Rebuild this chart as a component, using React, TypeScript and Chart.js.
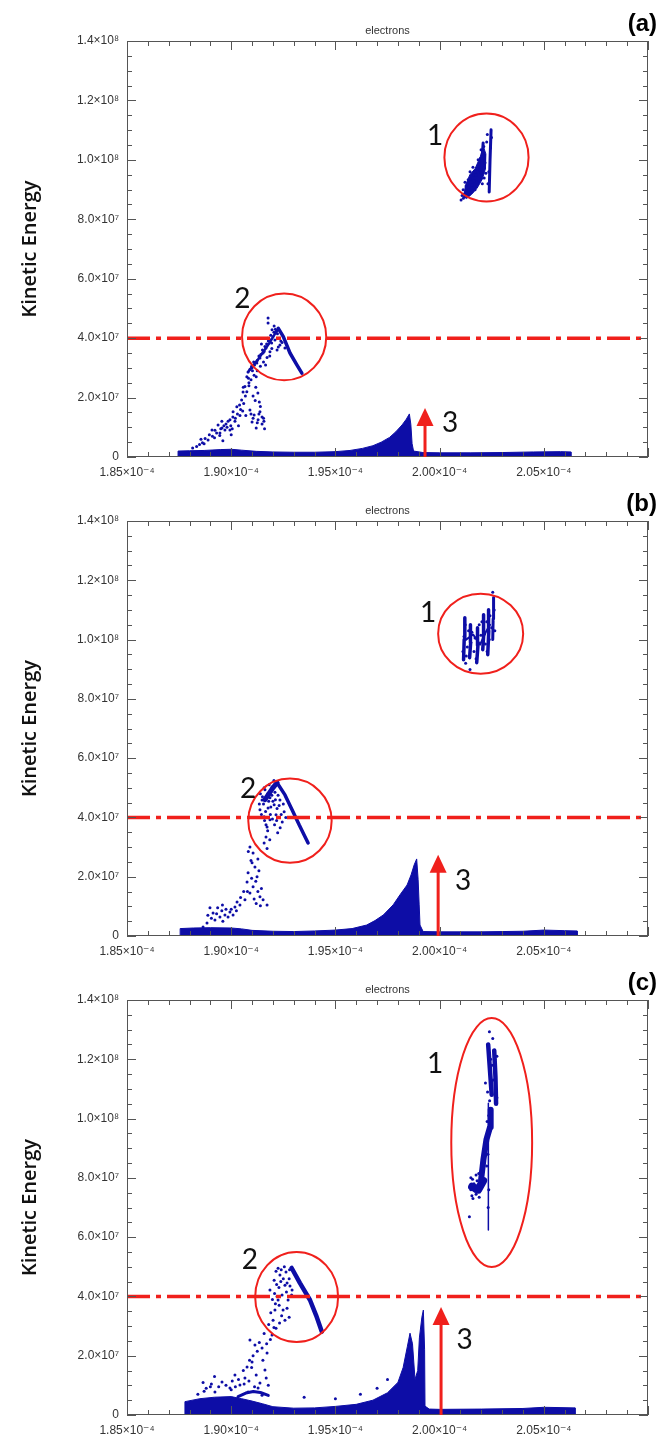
import React, { useEffect, useRef } from 'react';
import { Chart, registerables } from 'chart.js';

Chart.register(...registerables);

type Pt = [number, number];

// x values in units of 1e-4, y values in units of 1e7
const xMin = 1.85;
const xMax = 2.1;
const yMin = 0;
const yMax = 14;
const xTickValues = [1.85, 1.9, 1.95, 2.0, 2.05];
const xTickLabels = ['1.85×10⁻⁴', '1.90×10⁻⁴', '1.95×10⁻⁴', '2.00×10⁻⁴', '2.05×10⁻⁴'];
const yTickValues = [0, 2, 4, 6, 8, 10, 12, 14];
const yTickLabels = ['0', '2.0×10⁷', '4.0×10⁷', '6.0×10⁷', '8.0×10⁷', '1.0×10⁸', '1.2×10⁸', '1.4×10⁸'];
const xMinorStep = 0.01;
const yMinorStep = 0.5;
const thresholdY = 4.0;
const panelLetters = ['(a)', '(b)', '(c)'];
const panelTitle = 'electrons';
const yAxisTitle = 'Kinetic Energy';

// ---------- panel (a) ----------
const bandA: Pt[] = [
  [1.8745, 0], [1.8745, 0.2], [1.88, 0.21], [1.887, 0.22], [1.895, 0.25], [1.9, 0.26], [1.905, 0.23],
  [1.912, 0.19], [1.92, 0.17], [1.93, 0.16], [1.94, 0.16], [1.95, 0.18], [1.957, 0.22], [1.963, 0.29],
  [1.968, 0.38], [1.972, 0.5], [1.976, 0.66], [1.979, 0.85], [1.982, 1.08], [1.984, 1.27], [1.9855, 1.45],
  [1.9862, 1.1], [1.9868, 0.45], [1.9875, 0.2], [1.992, 0.15], [2.0, 0.14], [2.015, 0.14], [2.03, 0.15],
  [2.045, 0.17], [2.058, 0.18], [2.063, 0.17], [2.063, 0],
];
const scatterA: Pt[] = [
  [1.9177, 4.68], [1.9177, 4.51], [1.9196, 4.28], [1.9206, 4.41], [1.9215, 4.21], [1.921, 3.94], [1.9194, 3.84],
  [1.9167, 3.67], [1.9153, 3.5], [1.9138, 3.33], [1.9123, 3.16], [1.91, 3.0], [1.9081, 2.86], [1.9075, 2.7],
  [1.9066, 2.37], [1.9057, 2.19], [1.905, 1.92], [1.9027, 1.69], [1.9009, 1.52], [1.8994, 1.25], [1.897, 0.91],
  [1.893, 0.81], [1.8889, 0.57], [1.8834, 0.35], [1.909, 1.58], [1.911, 1.41], [1.9129, 1.25], [1.9148, 1.11],
  [1.912, 0.98], [1.91, 1.18], [1.9138, 1.52], [1.8937, 1.08], [1.8956, 0.98], [1.8975, 1.11], [1.8994, 0.91],
  [1.8946, 0.81], [1.8908, 0.91], [1.9234, 3.77], [1.922, 3.6], [1.9186, 3.54], [1.9258, 3.67], [1.9105, 2.05],
  [1.9085, 2.5], [1.912, 2.7], [1.9045, 1.6], [1.902, 1.3], [1.907, 1.4], [1.9155, 1.3], [1.916, 0.95],
  [1.9035, 1.05], [1.9, 0.75], [1.887, 0.45], [1.8855, 0.6], [1.892, 0.65], [1.896, 0.55], [1.9165, 3.1],
  [1.9145, 3.8], [1.9175, 4.0],
  [1.909, 2.95], [1.9098, 3.05], [1.9112, 3.1], [1.9108, 3.2], [1.9125, 3.25], [1.9133, 3.4], [1.9142, 3.45],
  [1.915, 3.6], [1.9158, 3.55], [1.9162, 3.72], [1.917, 3.8], [1.9178, 3.9], [1.9185, 3.95], [1.919, 4.1],
  [1.92, 4.05], [1.9205, 4.2], [1.9212, 4.3], [1.9218, 4.25], [1.9222, 4.15], [1.923, 4.0], [1.9238, 3.9],
  [1.9244, 3.85], [1.9226, 3.7], [1.9195, 3.65], [1.9185, 3.4], [1.9172, 3.35], [1.9155, 3.2], [1.914, 3.05],
  [1.9125, 2.9], [1.911, 2.75], [1.9095, 2.6], [1.9085, 2.4], [1.9075, 2.2], [1.9068, 2.05], [1.906, 1.8],
  [1.9055, 1.55], [1.9042, 1.4], [1.904, 1.75], [1.9058, 2.35], [1.9083, 2.65], [1.9102, 2.9], [1.9118, 2.35],
  [1.9128, 2.15], [1.9135, 1.85], [1.914, 1.7], [1.9115, 1.9], [1.9133, 1.45], [1.9148, 1.35], [1.9157, 1.2],
  [1.9125, 1.15], [1.9105, 1.3], [1.9095, 1.45], [1.9018, 1.2], [1.8998, 1.05], [1.898, 1.0], [1.8965, 1.05],
  [1.895, 0.95], [1.8922, 0.9], [1.891, 0.7], [1.8895, 0.75], [1.8875, 0.62], [1.8862, 0.48], [1.8848, 0.42],
  [1.8815, 0.3], [1.8955, 1.2], [1.8985, 1.2], [1.9005, 0.95], [1.8945, 0.72], [1.903, 1.45], [1.9008, 1.35],
  [2.0113, 8.99], [2.0137, 9.33], [2.0156, 9.16], [2.0175, 9.49], [2.0194, 9.66], [2.0146, 9.6], [2.0127, 9.12],
  [2.017, 8.99], [2.0209, 9.83], [2.0214, 9.39], [2.0185, 10.0], [2.0199, 10.34], [2.0114, 8.71], [2.0122, 9.25],
  [2.0165, 9.3], [2.018, 9.7], [2.0205, 9.2], [2.016, 9.75], [2.014, 9.0], [2.0118, 8.85], [2.0128, 9.05],
  [2.0135, 9.2], [2.0148, 9.35], [2.0152, 9.05], [2.0162, 9.5], [2.0172, 9.6], [2.0178, 9.25], [2.0188, 9.85],
  [2.0196, 10.05], [2.0202, 9.95], [2.0207, 10.2], [2.0212, 10.45], [2.0218, 9.9], [2.0222, 9.55], [2.0226, 10.6],
  [2.0229, 10.85], [2.0232, 9.2], [2.0236, 9.6], [2.0244, 10.4], [2.0249, 10.75], [2.0108, 8.8], [2.0103, 8.65],
  [2.0142, 8.85], [2.0158, 8.95],
];
const legA: Pt[] = [[1.9226, 4.33], [1.925, 4.05], [1.9282, 3.5], [1.9315, 3.1], [1.9339, 2.82]];
const armA: Pt[] = [[1.9081, 2.86], [1.913, 3.3], [1.918, 3.8], [1.9226, 4.33]];
const spikeA1: Pt[] = [[2.0238, 8.92], [2.0242, 10.0], [2.0247, 11.01]];
const spikeA2: Pt[] = [[2.0199, 9.56], [2.0209, 10.57]];
const blobA: Pt[] = [
  [2.0115, 8.75], [2.0125, 9.15], [2.0145, 9.5], [2.017, 9.7], [2.0195, 10.1], [2.021, 10.45], [2.0222, 10.2],
  [2.022, 9.7], [2.0205, 9.35], [2.018, 9.05], [2.0155, 8.85], [2.013, 8.7], [2.0115, 8.75],
];

// ---------- panel (b) ----------
const bandB: Pt[] = [
  [1.8755, 0], [1.8755, 0.25], [1.882, 0.27], [1.89, 0.28], [1.9, 0.27], [1.905, 0.24], [1.91, 0.19],
  [1.92, 0.16], [1.93, 0.15], [1.94, 0.17], [1.95, 0.2], [1.958, 0.25], [1.965, 0.37], [1.969, 0.52],
  [1.973, 0.71], [1.9777, 1.05], [1.981, 1.39], [1.9844, 1.72], [1.9863, 2.06], [1.9878, 2.4], [1.989, 2.6],
  [1.9897, 1.9], [1.9902, 1.05], [1.9906, 0.37], [1.9921, 0.15], [2.0, 0.14], [2.02, 0.14], [2.04, 0.16],
  [2.05, 0.2], [2.06, 0.18], [2.066, 0.17], [2.066, 0],
];
const scatterB: Pt[] = [
  [1.9162, 4.93], [1.9186, 4.66], [1.9177, 4.32], [1.9206, 4.43], [1.9234, 4.59], [1.9148, 4.59], [1.9215, 4.09],
  [1.9254, 4.19], [1.9186, 3.92], [1.9167, 3.75], [1.9196, 5.03], [1.9138, 4.26], [1.9158, 4.02], [1.917, 4.0],
  [1.9223, 3.48], [1.9172, 3.68], [1.9167, 3.34], [1.9158, 3.14], [1.909, 3.0], [1.9105, 2.8], [1.91, 2.47],
  [1.9114, 2.33], [1.9081, 2.13], [1.9124, 2.0], [1.9076, 1.82], [1.9105, 1.66], [1.909, 1.45], [1.9066, 1.22],
  [1.9138, 1.32], [1.9153, 1.22], [1.9172, 1.05], [1.9042, 1.05], [1.9018, 0.98], [1.8994, 0.81], [1.897, 0.71],
  [1.8946, 0.64], [1.8922, 0.54], [1.8898, 0.95], [1.8913, 0.78], [1.8884, 0.44], [1.8865, 0.3], [1.9009, 0.71],
  [1.8985, 0.64], [1.9028, 1.15], [1.9, 0.9], [1.8955, 0.85], [1.893, 0.75], [1.906, 1.5], [1.912, 1.1],
  [1.9145, 1.6],
  [1.915, 4.7], [1.9155, 4.45], [1.9165, 4.2], [1.9175, 4.8], [1.918, 4.55], [1.919, 4.35], [1.9195, 4.75],
  [1.92, 4.55], [1.921, 4.85], [1.9212, 4.6], [1.922, 4.3], [1.9225, 4.75], [1.923, 4.4], [1.924, 4.1],
  [1.9245, 3.85], [1.925, 4.45], [1.9262, 4.0], [1.9175, 3.55], [1.916, 3.9], [1.9145, 4.1], [1.9135, 4.45],
  [1.914, 4.8], [1.9158, 5.0], [1.9182, 5.1], [1.9205, 5.25], [1.9188, 4.1], [1.9198, 3.95], [1.9208, 3.75],
  [1.9218, 3.9], [1.9235, 3.65], [1.9185, 3.25], [1.9172, 2.95], [1.9128, 2.6], [1.9133, 2.2], [1.9095, 2.55],
  [1.9082, 2.85], [1.9118, 1.85], [1.9098, 1.95], [1.9078, 1.5], [1.9045, 1.3], [1.911, 1.25], [1.9128, 1.5],
  [1.914, 1.02], [1.9025, 0.85], [1.896, 0.5], [1.8975, 0.9], [1.8905, 0.6], [1.8888, 0.7], [1.8935, 0.95],
  [1.8958, 1.05],
  [2.0146, 8.99], [2.0125, 9.2], [2.0255, 11.6], [2.0112, 9.6], [2.0117, 10.1], [2.0123, 10.5], [2.0133, 9.75],
  [2.0139, 10.3], [2.015, 9.9], [2.0155, 10.25], [2.0165, 9.6], [2.017, 10.05], [2.0185, 9.9], [2.019, 10.5],
  [2.0198, 10.15], [2.0203, 10.6], [2.0215, 10.2], [2.022, 9.85], [2.0226, 10.6], [2.0238, 10.0], [2.0242, 10.8],
  [2.025, 10.4], [2.0262, 11.0], [2.0265, 10.3], [2.0128, 9.45], [2.0175, 9.35], [2.0228, 9.6],
];
const legB: Pt[] = [[1.922, 5.17], [1.9258, 4.76], [1.9292, 4.26], [1.9326, 3.75], [1.935, 3.41], [1.9369, 3.14]];
const armB: Pt[] = [[1.9162, 4.6], [1.92, 5.0], [1.922, 5.17]];
const barB1: Pt[] = [[2.0115, 9.32], [2.0118, 10.0], [2.0121, 10.74]];
const barB2: Pt[] = [[2.0144, 9.39], [2.0149, 9.9], [2.0148, 10.5]];
const barB3: Pt[] = [[2.0178, 9.22], [2.0184, 9.8], [2.0182, 10.4]];
const barB4: Pt[] = [[2.0207, 9.66], [2.0212, 10.2], [2.0211, 10.84]];
const barB5: Pt[] = [[2.0231, 9.49], [2.0236, 10.3], [2.0235, 11.01]];
const barB6: Pt[] = [[2.0255, 10.0], [2.0257, 10.7], [2.0259, 11.42]];
const linkB: Pt[] = [[2.0127, 10.0], [2.0161, 10.17], [2.0194, 9.83], [2.0223, 10.27], [2.0242, 10.5]];

// ---------- panel (c) ----------
const bandC: Pt[] = [
  [1.8778, 0], [1.8778, 0.45], [1.885, 0.55], [1.892, 0.6], [1.9, 0.62], [1.905, 0.55], [1.91, 0.47],
  [1.915, 0.38], [1.92, 0.28], [1.93, 0.23], [1.94, 0.24], [1.95, 0.29], [1.96, 0.36], [1.968, 0.5],
  [1.975, 0.75], [1.98, 1.1], [1.9825, 1.6], [1.9845, 2.3], [1.9858, 2.76], [1.987, 2.4], [1.9882, 1.2],
  [1.9895, 1.5], [1.9903, 2.6], [1.9915, 3.3], [1.9922, 3.54], [1.9928, 2.2], [1.993, 0.3], [1.995, 0.2],
  [2.0, 0.19], [2.02, 0.2], [2.04, 0.22], [2.05, 0.26], [2.065, 0.24], [2.065, 0],
];
const scatterC: Pt[] = [
  [1.9234, 4.72], [1.9258, 4.38], [1.9244, 4.05], [1.9225, 3.88], [1.9273, 3.88], [1.921, 3.54], [1.9249, 3.54],
  [1.9201, 3.2], [1.9215, 2.93], [1.9186, 4.22], [1.9258, 3.2], [1.9292, 4.22], [1.9196, 2.7], [1.9263, 4.82],
  [1.9206, 4.55], [1.9229, 4.3], [1.9278, 4.6], [1.922, 4.0], [1.909, 2.53], [1.9114, 2.36], [1.9172, 2.09],
  [1.9148, 2.26], [1.9076, 1.62], [1.91, 1.79], [1.9138, 1.08], [1.912, 1.35], [1.9066, 1.25], [1.9162, 1.52],
  [1.9042, 1.01], [1.9018, 1.35], [1.9129, 0.91], [1.8994, 0.91], [1.8956, 1.11], [1.9081, 0.78], [1.8922, 0.78],
  [1.9148, 0.67], [1.935, 0.6], [1.95, 0.55], [1.962, 0.7], [1.97, 0.9], [1.975, 1.2], [1.887, 0.8],
  [1.884, 0.7], [1.89, 0.95], [1.9, 0.85],
  [1.9215, 4.85], [1.9225, 4.95], [1.924, 4.9], [1.925, 4.6], [1.9268, 4.45], [1.9282, 4.35], [1.929, 4.05],
  [1.9265, 4.15], [1.9238, 4.5], [1.9218, 4.4], [1.9208, 4.1], [1.9198, 3.9], [1.9212, 3.75], [1.923, 3.7],
  [1.9242, 3.35], [1.9268, 3.6], [1.9278, 3.3], [1.919, 3.45], [1.918, 3.05], [1.9205, 2.95], [1.9232, 3.1],
  [1.9188, 2.55], [1.917, 2.4], [1.9158, 2.75], [1.9135, 2.45], [1.9125, 2.15], [1.9105, 2.0], [1.9088, 1.85],
  [1.9058, 1.5], [1.9035, 1.2], [1.9062, 1.05], [1.9085, 1.15], [1.9152, 1.85], [1.9168, 1.25], [1.9178, 1.0],
  [1.9112, 0.95], [1.9098, 1.6], [1.8975, 1.0], [1.894, 0.95], [1.8905, 1.05], [1.892, 1.3], [1.888, 0.9],
  [1.8865, 1.1], [1.9005, 1.15], [1.902, 0.95], [1.928, 4.9], [1.9255, 5.0],
  [2.0239, 12.93], [2.0143, 6.69], [2.016, 7.3], [2.0175, 7.45], [2.015, 8.0], [2.019, 7.35], [2.0165, 7.8],
  [2.0255, 12.7], [2.022, 11.2], [2.023, 10.9], [2.0275, 12.1], [2.0226, 8.4], [2.0214, 8.9], [2.0236, 12.2],
  [2.0245, 12.0], [2.0252, 11.8], [2.0258, 11.3], [2.0265, 12.0], [2.027, 11.0], [2.0275, 10.7], [2.0248, 11.2],
  [2.024, 10.6], [2.0236, 10.1], [2.0228, 9.9], [2.0218, 9.1], [2.0212, 8.7], [2.0205, 8.3], [2.02, 8.1],
  [2.0195, 7.8], [2.0188, 8.15], [2.018, 7.9], [2.017, 7.55], [2.0162, 7.65], [2.0155, 7.4], [2.015, 7.6],
  [2.0158, 7.95], [2.0175, 8.1], [2.0232, 8.8], [2.0236, 7.6], [2.0233, 7.0],
];
const legC: Pt[] = [[1.929, 4.96], [1.933, 4.45], [1.9378, 3.88], [1.9407, 3.37], [1.9435, 2.81]];
const arcC: Pt[] = [[1.9033, 0.62], [1.907, 0.74], [1.9106, 0.79], [1.914, 0.76], [1.9178, 0.66]];
const topC1: Pt[] = [[2.0233, 12.5], [2.0242, 11.6], [2.025, 10.8]];
const topC2: Pt[] = [[2.0262, 12.3], [2.0268, 11.4], [2.0271, 10.5]];
const threadC: Pt[] = [[2.0234, 10.52], [2.0234, 6.24]];
const midC: Pt[] = [[2.0199, 7.93], [2.021, 8.6], [2.0225, 9.3], [2.0242, 9.71], [2.0245, 10.3]];
const lowC: Pt[] = [[2.0156, 7.7], [2.0185, 7.6], [2.0209, 7.9]];

// ---------- annotations (data coordinates) ----------
const circlesA = [
  { x: 2.0225, y: 10.08, rx: 0.0202, ry: 1.48 },
  { x: 1.9254, y: 4.04, rx: 0.0202, ry: 1.46 },
];
const circlesB = [
  { x: 2.0197, y: 10.2, rx: 0.0204, ry: 1.35 },
  { x: 1.9282, y: 3.89, rx: 0.02, ry: 1.42 },
];
const circlesC = [
  { x: 2.025, y: 9.19, rx: 0.0194, ry: 4.2 },
  { x: 1.9314, y: 3.98, rx: 0.0199, ry: 1.52 },
];
const arrowA = { x: 1.993, y0: 0, y1: 1.65 };
const arrowB = { x: 1.9993, y0: 0, y1: 2.74 };
const arrowC = { x: 2.0007, y0: 0, y1: 3.64 };
const labelsA = [
  { t: '1', x: 1.9978, y: 10.81 },
  { t: '2', x: 1.9054, y: 5.32 },
  { t: '3', x: 2.005, y: 1.15 },
];
const labelsB = [
  { t: '1', x: 1.9945, y: 10.9 },
  { t: '2', x: 1.9081, y: 4.95 },
  { t: '3', x: 2.0113, y: 1.85 },
];
const labelsC = [
  { t: '1', x: 1.9978, y: 11.84 },
  { t: '2', x: 1.909, y: 5.23 },
  { t: '3', x: 2.012, y: 2.53 },
];

const BLUE = '#0d0da6';
const RED = '#f0201c';
const AXIS = '#555555';
const TICK_FONT = "'Liberation Sans', Arial, 'DejaVu Sans', sans-serif";

interface PanelCfg {
  letter: string;
  band: Pt[];
  scatter: Pt[];
  streaks: Pt[][];
  widths: number[];
  shapes: Pt[][];
  circles: { x: number; y: number; rx: number; ry: number }[];
  arrow: { x: number; y0: number; y1: number };
  labels: { t: string; x: number; y: number }[];
  top: number;
  height: number;
  plotTop: number;
  plotBottom: number;
}

const panels: PanelCfg[] = [
  {
    letter: panelLetters[0], band: bandA, scatter: scatterA,
    streaks: [legA, armA, spikeA1, spikeA2], widths: [3.5, 2.5, 3, 3],
    shapes: [blobA],
    circles: circlesA, arrow: arrowA, labels: labelsA,
    top: 0, height: 480, plotTop: 41, plotBottom: 457,
  },
  {
    letter: panelLetters[1], band: bandB, scatter: scatterB,
    streaks: [legB, armB, barB1, barB2, barB3, barB4, barB5, barB6, linkB],
    widths: [3.5, 5, 3.5, 3.5, 3.5, 3.5, 3.5, 3, 2],
    shapes: [],
    circles: circlesB, arrow: arrowB, labels: labelsB,
    top: 480, height: 480, plotTop: 41, plotBottom: 456,
  },
  {
    letter: panelLetters[2], band: bandC, scatter: scatterC,
    streaks: [legC, arcC, topC1, topC2, threadC, midC, lowC], widths: [4.5, 3, 4.5, 4.5, 1.5, 6, 8],
    shapes: [],
    circles: circlesC, arrow: arrowC, labels: labelsC,
    top: 960, height: 479, plotTop: 40, plotBottom: 455,
  },
];

const toXY = (pts: Pt[]) => pts.map(([x, y]) => ({ x, y }));

function makeFramePlugin() {
  return {
    id: 'idlFrame',
    afterDatasetsDraw(chart: any) {
      const { ctx, chartArea, scales } = chart;
      const { left, right, top, bottom } = chartArea;
      const xs = scales.x;
      const ys = scales.y;
      ctx.save();
      ctx.strokeStyle = AXIS;
      ctx.lineWidth = 1;
      ctx.strokeRect(left + 0.5, top + 0.5, right - left - 1, bottom - top - 1);
      ctx.beginPath();
      const nx = Math.round((xMax - xMin) / xMinorStep);
      for (let k = 0; k <= nx; k++) {
        const v = xMin + k * xMinorStep;
        const px = Math.round(xs.getPixelForValue(v)) + 0.5;
        const len = k % 5 === 0 ? 9 : 5;
        ctx.moveTo(px, bottom);
        ctx.lineTo(px, bottom - len);
        ctx.moveTo(px, top);
        ctx.lineTo(px, top + len);
      }
      const ny = Math.round((yMax - yMin) / yMinorStep);
      for (let k = 0; k <= ny; k++) {
        const v = yMin + k * yMinorStep;
        const py = Math.round(ys.getPixelForValue(v)) + 0.5;
        const len = k % 4 === 0 ? 9 : 5;
        ctx.moveTo(left, py);
        ctx.lineTo(left + len, py);
        ctx.moveTo(right, py);
        ctx.lineTo(right - len, py);
      }
      ctx.stroke();
      ctx.restore();
    },
  };
}

function makeAnnotationPlugin(cfg: PanelCfg) {
  return {
    id: 'annotations',
    afterDatasetsDraw(chart: any) {
      const { ctx, chartArea, scales } = chart;
      const xs = scales.x;
      const ys = scales.y;
      ctx.save();
      ctx.strokeStyle = RED;
      ctx.lineWidth = 2;
      cfg.circles.forEach((c) => {
        const cx = xs.getPixelForValue(c.x);
        const cy = ys.getPixelForValue(c.y);
        const rx = Math.abs(xs.getPixelForValue(c.x + c.rx) - cx);
        const ry = Math.abs(ys.getPixelForValue(c.y + c.ry) - cy);
        ctx.beginPath();
        ctx.ellipse(cx, cy, rx, ry, 0, 0, Math.PI * 2);
        ctx.stroke();
      });
      const ax = xs.getPixelForValue(cfg.arrow.x);
      const ay0 = ys.getPixelForValue(cfg.arrow.y0);
      const ay1 = ys.getPixelForValue(cfg.arrow.y1);
      const headH = 18;
      const headW = 17;
      ctx.beginPath();
      ctx.lineWidth = 3;
      ctx.moveTo(ax, ay0);
      ctx.lineTo(ax, ay1 + headH - 1);
      ctx.stroke();
      ctx.fillStyle = RED;
      ctx.beginPath();
      ctx.moveTo(ax, ay1);
      ctx.lineTo(ax - headW / 2, ay1 + headH);
      ctx.lineTo(ax + headW / 2, ay1 + headH);
      ctx.closePath();
      ctx.fill();
      ctx.fillStyle = '#111';
      ctx.font = "28px Lato, 'Open Sans', sans-serif";
      ctx.textAlign = 'center';
      ctx.textBaseline = 'middle';
      cfg.labels.forEach((l) => {
        ctx.fillText(l.t, xs.getPixelForValue(l.x), ys.getPixelForValue(l.y));
      });
      const { left, right, top, bottom } = chartArea;
      ctx.fillStyle = '#333';
      ctx.font = `11px ${TICK_FONT}`;
      ctx.textAlign = 'center';
      ctx.textBaseline = 'alphabetic';
      ctx.fillText(panelTitle, (left + right) / 2, top - 7);
      ctx.fillStyle = '#000';
      ctx.font = `bold 24px ${TICK_FONT}`;
      ctx.textAlign = 'right';
      ctx.textBaseline = 'middle';
      ctx.fillText(cfg.letter, 657, top - 17);
      ctx.save();
      ctx.translate(30, (top + bottom) / 2);
      ctx.rotate(-Math.PI / 2);
      ctx.fillStyle = '#111';
      ctx.font = "600 20px 'Open Sans', sans-serif";
      ctx.textAlign = 'center';
      ctx.textBaseline = 'middle';
      ctx.fillText(yAxisTitle, 0, 0);
      ctx.restore();
      ctx.restore();
    },
  };
}

function Panel({ cfg }: { cfg: PanelCfg }) {
  const ref = useRef<HTMLCanvasElement>(null);
  useEffect(() => {
    const canvas = ref.current;
    if (!canvas) return;
    const datasets: any[] = [
      {
        type: 'line',
        data: toXY([[xMin, thresholdY], [xMax, thresholdY]]),
        borderColor: RED,
        borderWidth: 3.5,
        borderDash: [23, 6, 5, 6],
        pointRadius: 0,
        order: 0,
      },
      {
        type: 'line',
        data: toXY(cfg.band),
        borderColor: BLUE,
        backgroundColor: BLUE,
        borderWidth: 1,
        fill: 'origin',
        pointRadius: 0,
        tension: 0,
        order: 10,
      },
      ...cfg.shapes.map((s) => ({
        type: 'line',
        data: toXY(s),
        borderColor: BLUE,
        backgroundColor: BLUE,
        borderWidth: 1,
        fill: 'shape',
        pointRadius: 0,
        tension: 0,
        order: 6,
      })),
      ...cfg.streaks.map((s, i) => ({
        type: 'line',
        data: toXY(s),
        borderColor: BLUE,
        borderWidth: cfg.widths[i],
        borderCapStyle: 'round',
        borderJoinStyle: 'round',
        pointRadius: 0,
        fill: false,
        tension: 0,
        order: 4,
      })),
      {
        type: 'scatter',
        data: toXY(cfg.scatter),
        backgroundColor: BLUE,
        borderWidth: 0,
        pointRadius: 1.5,
        order: 5,
      },
    ];
    const chart = new Chart(canvas, {
      type: 'scatter',
      data: { datasets },
      options: {
        responsive: false,
        animation: false,
        events: [],
        layout: { padding: { left: 0, right: 16, top: cfg.plotTop, bottom: 0 } },
        plugins: { legend: { display: false }, tooltip: { enabled: false } },
        scales: {
          x: {
            type: 'linear',
            min: xMin,
            max: xMax,
            grid: { display: false, drawTicks: false },
            border: { display: false },
            afterBuildTicks: (s: any) => {
              s.ticks = xTickValues.map((v) => ({ value: v }));
            },
            afterFit: (s: any) => {
              s.height = cfg.height - cfg.plotBottom;
            },
            ticks: {
              autoSkip: false,
              maxRotation: 0,
              padding: 8,
              color: '#333',
              font: { family: TICK_FONT, size: 12 },
              callback: (_v: any, i: number) => xTickLabels[i],
            },
          },
          y: {
            type: 'linear',
            min: yMin,
            max: yMax,
            grid: { display: false, drawTicks: false },
            border: { display: false },
            afterBuildTicks: (s: any) => {
              s.ticks = yTickValues.map((v) => ({ value: v }));
            },
            afterFit: (s: any) => {
              s.width = 127;
            },
            ticks: {
              autoSkip: false,
              padding: 8,
              color: '#333',
              font: { family: TICK_FONT, size: 12 },
              callback: (_v: any, i: number) => yTickLabels[i],
            },
          },
        },
      } as any,
      plugins: [makeFramePlugin(), makeAnnotationPlugin(cfg)],
    });
    return () => chart.destroy();
  }, [cfg]);
  return (
    <canvas
      ref={ref}
      width={664}
      height={cfg.height}
      style={{ position: 'absolute', left: 0, top: cfg.top, width: 664, height: cfg.height }}
    />
  );
}

export default function App() {
  return (
    <div style={{ position: 'absolute', left: 0, top: 0, width: 664, height: 1439, background: '#fff', overflow: 'hidden' }}>
      {panels.map((p) => (
        <Panel key={p.letter} cfg={p} />
      ))}
    </div>
  );
}
